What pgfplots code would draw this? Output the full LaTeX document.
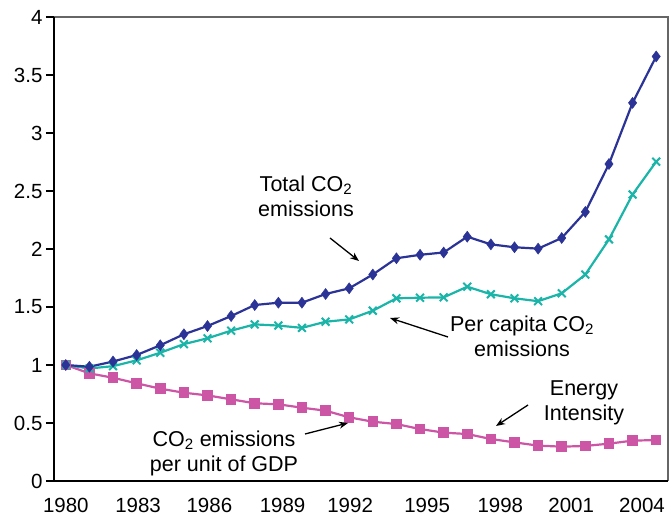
\documentclass[border=0pt]{standalone}
\usepackage{pgfplots}
\pgfplotsset{compat=1.18}
\usepackage{fontspec}
\setmainfont{Liberation Sans}
\usetikzlibrary{arrows.meta}

\definecolor{totalc}{RGB}{43,52,150}
\definecolor{capitac}{RGB}{27,180,168}
\definecolor{gdpc}{RGB}{204,85,165}

% index 0 = 1980
\pgfplotstableread{
i total percap gdp
0  1.000 1.000 1.000
1  0.985 0.970 0.928
2  1.030 0.990 0.890
3  1.086 1.040 0.842
4  1.170 1.106 0.796
5  1.265 1.180 0.761
6  1.336 1.230 0.738
7  1.422 1.296 0.704
8  1.517 1.350 0.670
9  1.537 1.340 0.661
10 1.537 1.320 0.632
11 1.612 1.373 0.606
12 1.661 1.393 0.549
13 1.780 1.468 0.511
14 1.920 1.575 0.491
15 1.950 1.580 0.448
16 1.970 1.583 0.417
17 2.106 1.675 0.405
18 2.040 1.610 0.362
19 2.015 1.575 0.333
20 2.003 1.550 0.305
21 2.095 1.618 0.296
22 2.320 1.780 0.302
23 2.733 2.083 0.322
24 3.260 2.470 0.348
25 3.660 2.753 0.353
}\emissions

\begin{document}
\begin{tikzpicture}[x=1pt,y=1pt]
\begin{axis}[
  scale only axis,
  width=614pt, height=464pt,
  xmin=-0.5, xmax=25.5,
  ymin=0, ymax=4,
  axis line style={draw=none},
  xtick={0,3.06,6.08,9.18,12.04,15.3,18.4,21.4,24.4},
  xticklabels={1980,1983,1986,1989,1992,1995,1998,2001,2004},
  minor xtick={-0.5,0.5,...,25.5},
  ytick={0,0.5,...,4},
  yticklabels={0,0.5,1,1.5,2,2.5,3,3.5,4},
  /pgf/number format/assume math mode=true,
  tick align=outside,
  xtick style={draw=none},
  minor x tick style={black, line width=1.2pt},
  minor tick length=5pt,
  ytick style={black, line width=1.2pt},
  major tick length=8pt,
  xtick pos=bottom, ytick pos=left,
  tick label style={font=\fontsize{20.5}{23}\selectfont},
  xticklabel style={yshift=-6pt},
  yticklabel style={xshift=0pt},
  clip=false,
]
% plot frame
\draw[gray!80!black, line width=1.3pt] (rel axis cs:0,1) -- (rel axis cs:1,1) -- (rel axis cs:1,0);
\draw[black, line width=2pt] (rel axis cs:0,1) -- (rel axis cs:0,0) -- (rel axis cs:1,0);

\addplot[gdpc, line width=2.2pt, mark=square*, mark size=4.8pt,
  mark options={solid, line width=0pt}] table[x=i, y=gdp] {\emissions};
\addplot[capitac, line width=2.2pt, mark=x, mark size=5.5pt,
  mark options={solid, line width=2pt}] table[x=i, y=percap] {\emissions};
\addplot[totalc, line width=2.2pt, mark=diamond*, mark size=5.5pt,
  mark options={solid, line width=0.5pt, draw=totalc, fill=totalc}] table[x=i, y=total] {\emissions};
\end{axis}

% annotations
\begin{scope}[font=\fontsize{21.5}{25}\selectfont]
\node[align=center] at (252pt,285pt) {Total CO\textsubscript{2}\\emissions};
\node[align=center] at (468pt,145pt) {Per capita CO\textsubscript{2}\\emissions};
\node[align=center] at (530pt,78pt) {Energy\\Intensity};
\node[align=center] at (170pt,28pt) {CO\textsubscript{2} emissions\\per unit of GDP};
\end{scope}
\begin{scope}[line width=1.3pt, -{Stealth[length=9pt,width=7pt]}]
\draw (276pt,243pt) -- (305pt,220pt);
\draw (394pt,144pt) -- (336pt,163pt);
\draw (474pt,76pt) -- (442pt,55pt);
\draw (251pt,47pt) -- (294pt,58pt);
\end{scope}

\pgfresetboundingbox
\useasboundingbox (-54pt,-36pt) rectangle (616pt,481pt);
\end{tikzpicture}
\end{document}
